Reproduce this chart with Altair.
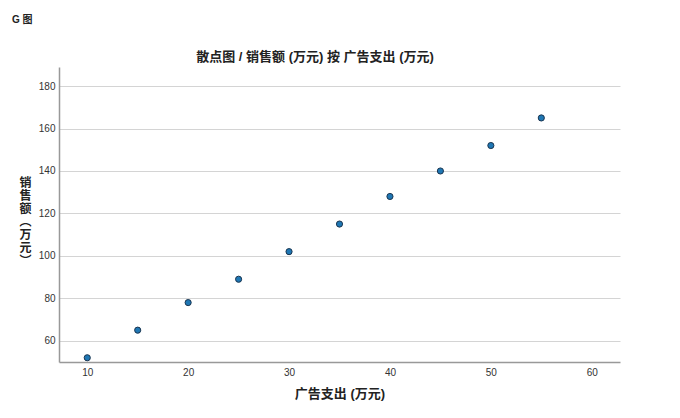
import altair as alt
import pandas as pd

ad_spend = [10, 15, 20, 25, 30, 35, 40, 45, 50, 55]
sales = [52, 65, 78, 89, 102, 115, 128, 140, 152, 165]
x_ticks = [10, 20, 30, 40, 50, 60]
y_ticks = [60, 80, 100, 120, 140, 160, 180]
y_title_lines = ["销", "售", "额", "︵", "万", "元", "︶"]
chart_title = "散点图 / 销售额 (万元) 按 广告支出 (万元)"
corner_label = "G 图"

df = pd.DataFrame({"ad": ad_spend, "sales": sales})

FONT = "Liberation Sans, Noto Sans CJK SC"

points = alt.Chart(df).mark_point(
    filled=True, size=38, color="#1f77b4", stroke="#1a3550", strokeWidth=1, opacity=1
).encode(
    x=alt.X("ad:Q", scale=alt.Scale(domain=[7.2, 62.8], nice=False, zero=False),
            axis=alt.Axis(values=x_ticks, title="广告支出 (万元)", grid=False, ticks=False,
                          labelPadding=5, titlePadding=10)),
    y=alt.Y("sales:Q", scale=alt.Scale(domain=[50, 189], nice=False, zero=False),
            axis=alt.Axis(values=y_ticks, title=y_title_lines,
                          grid=True, ticks=False, labelPadding=4,
                          titleAngle=0, titleX=-34, titleY=110, titleBaseline="top",
                          titleAlign="center", titleLineHeight=13, titleFontSize=12)),
)

corner = alt.Chart(pd.DataFrame({"t": [corner_label]})).mark_text(
    align="left", baseline="middle", fontSize=10, fontWeight="bold", font=FONT, color="#222"
).encode(x=alt.value(-47), y=alt.value(-47), text="t:N")

title = alt.Chart(pd.DataFrame({"t": [chart_title]})).mark_text(
    align="center", baseline="middle", fontSize=13, fontWeight="bold", font=FONT, color="#222"
).encode(x=alt.value(256), y=alt.value(-10), text="t:N")

chart = alt.layer(points, corner, title).properties(
    width=561, height=295,
    padding={"left": 51, "top": 59, "right": 40, "bottom": 45},
    autosize=alt.AutoSizeParams(type="none"),
).configure_view(stroke=None).configure_axis(
    labelFont=FONT, titleFont=FONT, labelFontSize=10, labelColor="#333",
    titleFontSize=13, titleFontWeight="bold", titleColor="#222",
    domainColor="#999", domainWidth=1.5, gridColor="#d4d4d4", gridWidth=1,
)

chart.save("out.html", embed_options={"renderer": "svg", "actions": False})
